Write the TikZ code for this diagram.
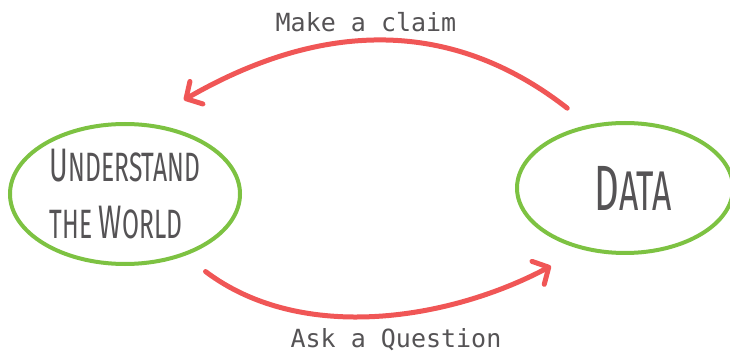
\documentclass[tikz,border=0pt]{standalone}
\usepackage{fontspec}
\usetikzlibrary{arrows.meta,shapes.geometric}
\newfontfamily\tallfont{Fira Sans}[FakeStretch=0.6]
\newfontfamily\notefont{DejaVu Sans Mono}
\definecolor{loopgreen}{HTML}{7DC242}
\definecolor{looppink}{HTML}{F05656}
\definecolor{inkgrey}{HTML}{555355}
\tikzset{
  bubble/.style={ellipse,draw=loopgreen,line width=4pt,inner sep=0pt,
    text=inkgrey,align=center},
  loop/.style={draw=looppink,line width=5pt,line cap=round,
    -{Straight Barb[length=12pt,width=26pt,round]}},
  note/.style={text=inkgrey,font=\notefont\fontsize{25}{25}\selectfont}
}
\begin{document}
\begin{tikzpicture}[x=1pt,y=1pt]
    \useasboundingbox (0,0) rectangle (730,356);
    \node (world) at (125,162) [bubble,minimum width=230pt,minimum height=140pt,
      align=left,font=\tallfont\fontsize{41}{57}\selectfont]
      {{\fontsize{47}{57}\selectfont U}NDERSTAND\\
       THE {\fontsize{47}{57}\selectfont W}ORLD};
    \node (data) at (625,168) [bubble,minimum width=216pt,minimum height=130pt,
      font=\tallfont]
      {\hspace*{16pt}{\fontsize{64}{64}\selectfont D}{\fontsize{56}{56}\selectfont ATA}};
    \node (claim) at (366,334) [note] {Make a claim};
    \node (question) at (396,16) [note] {Ask a Question};
    \draw [loop,shorten <=27pt,shorten >=46pt] (data.120) to[out=142,in=30,looseness=1.08] (world.75);
    \draw [loop,shorten <=26pt,shorten >=35pt] (world.-46) to[out=-37,in=208,looseness=0.95] (data.235);
\end{tikzpicture}
\end{document}
